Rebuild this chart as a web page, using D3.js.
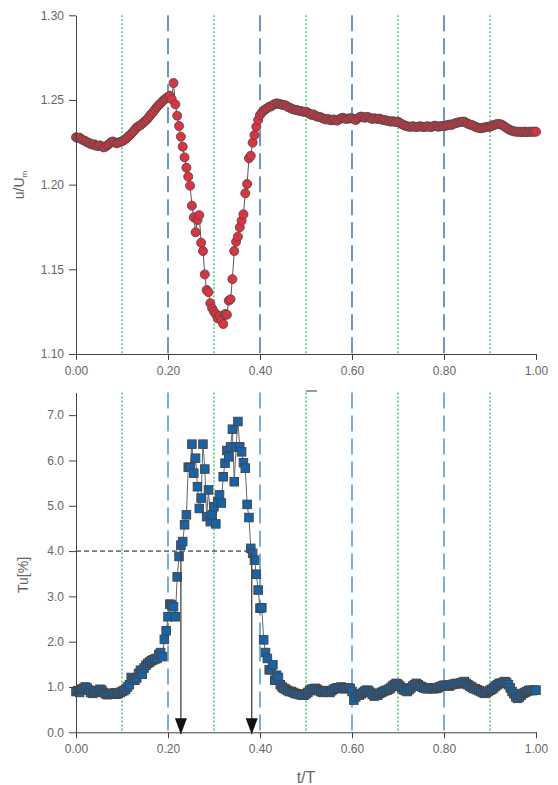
<!DOCTYPE html>
<html>
<head>
<meta charset="utf-8">
<script src="https://cdn.jsdelivr.net/npm/d3@7"></script>
<style>
  body { margin: 0; background: #fff; }
  svg text { font-family: "Liberation Sans", Arial, sans-serif; fill: #666; }
</style>
</head>
<body>
<svg id="chart" width="558" height="785"></svg>
<script>
// phase bins of one cycle, t/T, sampled every 0.004
var phaseStep = 0.004;

// u/Um, phase-averaged velocity
var uValues = [
  1.2280,1.2275,1.2278,1.2268,1.2262,1.2258,1.2250,1.2247,1.2240,1.2236,
  1.2238,1.2230,1.2228,1.2232,1.2226,1.2220,1.2224,1.2232,1.2240,1.2250,
  1.2255,1.2250,1.2244,1.2248,1.2252,1.2256,1.2262,1.2270,1.2280,1.2290,
  1.2300,1.2312,1.2325,1.2338,1.2345,1.2350,1.2360,1.2370,1.2380,1.2390,
  1.2405,1.2418,1.2430,1.2445,1.2458,1.2470,1.2480,1.2492,1.2502,1.2510,
  1.2518,1.2525,1.2505,1.2600,1.2474,1.2407,1.2346,1.2283,1.2224,1.2161,
  1.2100,1.2047,1.1994,1.1876,1.1807,1.1719,1.1791,1.1820,1.1657,1.1608,
  1.1470,1.1378,1.1365,1.1300,1.1270,1.1250,1.1235,1.1210,1.1225,1.1200,
  1.1177,1.1236,1.1232,1.1315,1.1323,1.1442,1.1608,1.1663,1.1693,1.1748,
  1.1787,1.1825,1.1949,1.2004,1.2156,1.2171,1.2248,1.2293,1.2342,1.2382,
  1.2411,1.2425,1.2438,1.2445,1.2452,1.2460,1.2462,1.2470,1.2476,1.2480,
  1.2478,1.2475,1.2472,1.2470,1.2468,1.2460,1.2455,1.2450,1.2445,1.2442,
  1.2440,1.2437,1.2435,1.2432,1.2430,1.2431,1.2425,1.2418,1.2412,1.2415,
  1.2408,1.2402,1.2400,1.2398,1.2392,1.2388,1.2385,1.2388,1.2382,1.2380,
  1.2385,1.2382,1.2378,1.2385,1.2392,1.2395,1.2390,1.2388,1.2390,1.2392,
  1.2392,1.2388,1.2382,1.2390,1.2398,1.2402,1.2398,1.2395,1.2400,1.2398,
  1.2392,1.2388,1.2392,1.2390,1.2388,1.2390,1.2385,1.2382,1.2380,1.2378,
  1.2375,1.2372,1.2375,1.2372,1.2370,1.2372,1.2365,1.2358,1.2352,1.2348,
  1.2345,1.2342,1.2342,1.2345,1.2342,1.2340,1.2342,1.2345,1.2342,1.2340,
  1.2342,1.2345,1.2342,1.2340,1.2345,1.2348,1.2345,1.2342,1.2345,1.2346,
  1.2346,1.2348,1.2352,1.2355,1.2352,1.2358,1.2362,1.2365,1.2368,1.2370,
  1.2372,1.2372,1.2365,1.2360,1.2355,1.2352,1.2348,1.2342,1.2338,1.2335,
  1.2333,1.2335,1.2338,1.2340,1.2342,1.2342,1.2348,1.2352,1.2355,1.2358,
  1.2358,1.2355,1.2350,1.2342,1.2335,1.2328,1.2322,1.2318,1.2315,1.2313,
  1.2312,1.2313,1.2310,1.2312,1.2313,1.2310,1.2312,1.2313,1.2312,1.2313,
  1.2313
];

// Tu [%], turbulence intensity
var tuValues = [
  0.90,0.92,0.88,0.95,0.97,1.00,0.98,0.93,0.88,0.86,
  0.88,0.92,0.90,0.95,0.93,0.88,0.85,0.83,0.86,0.84,
  0.85,0.87,0.84,0.86,0.88,0.90,0.92,0.95,1.00,1.05,
  1.21,1.17,1.15,1.20,1.30,1.37,1.28,1.42,1.48,1.52,
  1.55,1.58,1.60,1.62,1.63,1.72,1.76,1.67,2.05,2.24,
  2.55,2.83,2.81,2.77,2.55,3.43,3.88,4.13,4.21,4.58,
  4.80,5.85,5.85,6.36,5.72,6.05,5.42,4.94,5.17,6.36,
  5.81,4.76,5.35,4.65,4.80,4.98,4.60,5.09,5.24,5.06,
  5.64,5.94,6.22,6.08,6.30,6.69,5.53,6.30,6.86,6.30,
  6.19,5.95,5.83,5.03,4.74,4.06,3.95,3.80,3.49,3.14,
  2.74,2.75,2.04,1.76,1.63,1.38,1.38,1.49,1.15,1.26,
  1.21,1.05,1.00,0.97,0.95,0.92,0.90,0.90,0.88,0.86,
  0.85,0.84,0.83,0.82,0.82,0.85,0.88,0.92,0.95,0.96,
  0.97,0.95,0.92,0.90,0.88,0.90,0.92,0.90,0.88,0.92,
  0.95,0.97,0.98,0.97,1.00,0.98,0.96,0.97,0.98,0.97,
  0.90,0.71,0.78,0.85,0.82,0.85,0.88,0.91,0.93,0.92,
  0.88,0.84,0.80,0.82,0.82,0.86,0.88,0.90,0.92,0.93,
  0.95,0.98,1.02,1.05,1.08,1.06,1.02,0.98,0.94,0.92,
  0.90,0.94,0.98,1.02,1.05,1.08,1.05,1.02,1.00,0.98,
  0.97,0.96,0.97,0.98,0.96,0.97,0.97,0.99,1.01,1.02,
  1.04,1.03,1.04,1.02,1.05,1.06,1.07,1.08,1.07,1.09,
  1.10,1.12,1.08,1.05,1.02,1.00,0.97,0.96,0.94,0.92,
  0.90,0.88,0.86,0.88,0.90,0.93,0.95,0.98,1.02,1.05,
  1.08,1.08,1.10,1.12,1.10,1.05,0.98,0.90,0.85,0.78,
  0.75,0.78,0.82,0.86,0.88,0.90,0.92,0.93,0.92,0.93,
  0.93
];

var xTicks = [0, 0.2, 0.4, 0.6, 0.8, 1.0];
var xMinorTicks = [0.1, 0.3, 0.5, 0.7, 0.9];
var dashedLines = [0.2, 0.4, 0.6, 0.8];
var uTicks = [1.10, 1.15, 1.20, 1.25, 1.30];
var uMinorTicks = [1.125, 1.175, 1.225, 1.275];
var tuTicks = [0, 1, 2, 3, 4, 5, 6, 7];
var tuMinorTicks = [0.5, 1.5, 2.5, 3.5, 4.5, 5.5, 6.5, 7.5];

// threshold Tu = 4 % and the phases where it is crossed
var threshold = 4.0;
var arrowPhases = [0.228, 0.382];

var svg = d3.select("#chart");

var topData = uValues.map(function(v, i){ return {t: i * phaseStep, v: v}; });
var botData = tuValues.map(function(v, i){ return {t: i * phaseStep, v: v}; });

var x = d3.scaleLinear().domain([0, 1]).range([76, 536]);
var yTop = d3.scaleLinear().domain([1.10, 1.30]).range([354, 15.3]);
var yBot = d3.scaleLinear().domain([0, 7.5]).range([732.3, 392.5]);

// arrow head drawn pointing down, no rotation
svg.append("defs").append("marker")
    .attr("id", "arrowHead")
    .attr("viewBox", "0 0 12 16")
    .attr("refX", 6).attr("refY", 16)
    .attr("markerWidth", 12).attr("markerHeight", 16)
    .attr("markerUnits", "userSpaceOnUse")
    .attr("orient", "0")
    .append("path")
    .attr("d", "M0,0 L12,0 L6,16 Z")
    .attr("fill", "#111");

function drawGuides(y0, y1, dashColor){
    svg.append("g").selectAll("line")
        .data(xMinorTicks).enter().append("line")
        .attr("x1", function(d){ return x(d); })
        .attr("x2", function(d){ return x(d); })
        .attr("y1", y0).attr("y2", y1)
        .attr("stroke", "#4fc97c")
        .attr("stroke-width", 1.6)
        .attr("stroke-dasharray", "2,2");
    svg.append("g").selectAll("line")
        .data(dashedLines).enter().append("line")
        .attr("x1", function(d){ return x(d); })
        .attr("x2", function(d){ return x(d); })
        .attr("y1", y0).attr("y2", y1)
        .attr("stroke", dashColor)
        .attr("stroke-width", 1.3)
        .attr("stroke-dasharray", "16,7");
}

function drawAxes(y, yMajor, yMinor, fmt, xBase){
    var gx = svg.append("g").attr("transform", "translate(0," + xBase + ")");
    gx.call(d3.axisBottom(x).tickValues(xMinorTicks).tickSize(3).tickSizeOuter(0).tickFormat(""));
    gx.call(d3.axisBottom(x).tickValues(xTicks).tickSize(6).tickSizeOuter(0)
        .tickPadding(6).tickFormat(d3.format(".2f")));
    var gy = svg.append("g").attr("transform", "translate(76,0)");
    gy.call(d3.axisLeft(y).tickValues(yMinor).tickSize(3).tickSizeOuter(0).tickFormat(""));
    gy.call(d3.axisLeft(y).tickValues(yMajor).tickSize(7).tickSizeOuter(0)
        .tickPadding(5).tickFormat(d3.format(fmt)));
    svg.selectAll(".domain, .tick line").attr("stroke", "#444");
    svg.selectAll(".tick text").attr("font-size", 12).attr("fill", "#666");
}

// ---- top panel: u/Um ----
drawGuides(15.3, 354, "#1c5ea6");

svg.append("path")
    .datum(topData)
    .attr("fill", "none")
    .attr("stroke", "#555")
    .attr("stroke-width", 1)
    .attr("d", d3.line().x(function(d){ return x(d.t); }).y(function(d){ return yTop(d.v); }));

svg.append("g").selectAll("circle")
    .data(topData).enter().append("circle")
    .attr("cx", function(d){ return x(d.t); })
    .attr("cy", function(d){ return yTop(d.v); })
    .attr("r", 4.5)
    .attr("fill", "#e2303d")
    .attr("stroke", "#4d4d4d")
    .attr("stroke-width", 0.9);

drawAxes(yTop, uTicks, uMinorTicks, ".2f", 354);

var uLabel = svg.append("text")
    .attr("transform", "translate(24,185) rotate(-90)")
    .attr("text-anchor", "middle")
    .attr("font-size", 14);
uLabel.append("tspan").text("u/U");
uLabel.append("tspan").attr("font-size", 8).attr("dy", 3).text("m");

// ---- bottom panel: Tu ----
drawGuides(392.5, 732.3, "#2e86c9");

svg.append("line")
    .attr("x1", x(0)).attr("x2", x(arrowPhases[1]) + 2)
    .attr("y1", yBot(threshold)).attr("y2", yBot(threshold))
    .attr("stroke", "#111")
    .attr("stroke-width", 1)
    .attr("stroke-dasharray", "5,3");

svg.append("path")
    .datum(botData)
    .attr("fill", "none")
    .attr("stroke", "#666")
    .attr("stroke-width", 1)
    .attr("d", d3.line().x(function(d){ return x(d.t); }).y(function(d){ return yBot(d.v); }));

var sq = 8.5;
svg.append("g").selectAll("rect")
    .data(botData).enter().append("rect")
    .attr("x", function(d){ return x(d.t) - sq / 2; })
    .attr("y", function(d){ return yBot(d.v) - sq / 2; })
    .attr("width", sq).attr("height", sq)
    .attr("fill", "#1464ad")
    .attr("stroke", "#464646")
    .attr("stroke-width", 1);

svg.append("g").selectAll("line")
    .data(arrowPhases).enter().append("line")
    .attr("x1", function(d){ return x(d); })
    .attr("x2", function(d){ return x(d); })
    .attr("y1", yBot(threshold))
    .attr("y2", yBot(0) + 2)
    .attr("stroke", "#444")
    .attr("stroke-width", 1.3)
    .attr("marker-end", "url(#arrowHead)");

drawAxes(yBot, tuTicks, tuMinorTicks, ".1f", 732.3);

svg.append("line")
    .attr("x1", 306).attr("x2", 317).attr("y1", 391).attr("y2", 391)
    .attr("stroke", "#555").attr("stroke-width", 1.2);

svg.append("text")
    .attr("transform", "translate(28,575) rotate(-90)")
    .attr("text-anchor", "middle")
    .attr("font-size", 14)
    .text("Tu[%]");

svg.append("text")
    .attr("x", 306).attr("y", 783)
    .attr("text-anchor", "middle")
    .attr("font-size", 16)
    .text("t/T");
</script>
</body>
</html>
